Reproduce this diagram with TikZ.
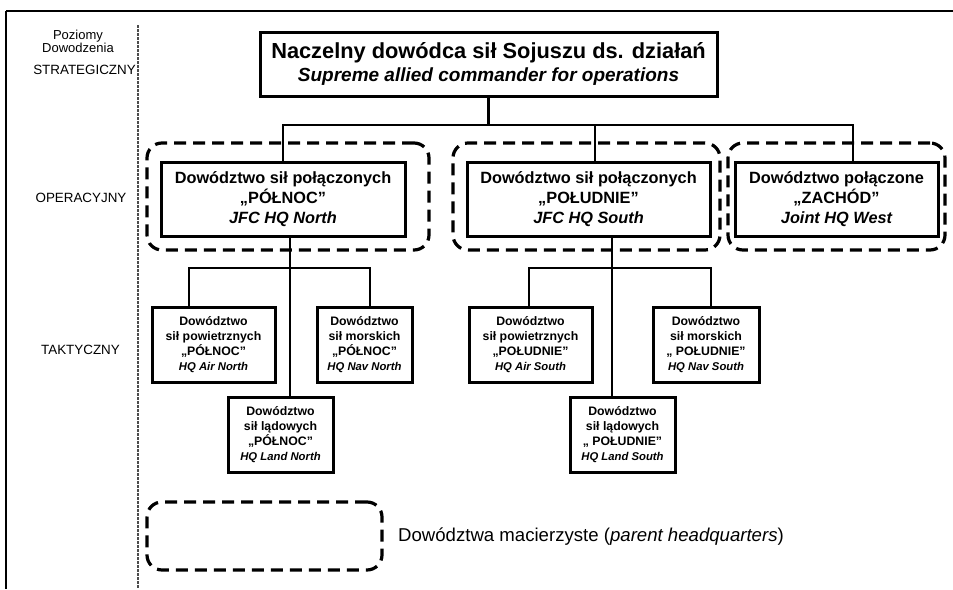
\documentclass[tikz,border=0pt]{standalone}
\usepackage{fontspec}
\setmainfont{Liberation Sans}
\newcommand{\hqfont}{\bfseries\itshape\fontsize{11.3}{15}\selectfont}
\begin{document}
\begin{tikzpicture}[x=1pt,y=-1pt,
  box/.style={draw, line width=3pt, inner sep=0pt, align=center},
  opbox/.style={box, minimum height=74pt, font=\bfseries\fontsize{16.3}{20}\selectfont},
  tbox/.style={box, minimum height=75pt, font=\bfseries\fontsize{12.3}{15}\selectfont},
  conn/.style={line width=2.6pt},
  grp/.style={draw, line width=3.2pt, dash pattern=on 12pt off 7pt, rounded corners=15pt, inner sep=0pt},
  lvl/.style={font=\fontsize{13.4}{15}\selectfont},
]
\useasboundingbox (0,0) rectangle (953,589);
% frame
\draw[line width=2.4pt] (6,11) -- (953,11);
\draw[line width=1.7pt] (6,11) -- (6,589);
\draw[line width=1.2pt, black!70, dash pattern=on 3pt off 1pt] (138,25) -- (138,589);
% level labels
\node[font=\fontsize{13}{12}\selectfont, align=center] (hdr) at (78,41) {Poziomy\\Dowodzenia};
\node[lvl] (lstr) at (84.5,70) {STRATEGICZNY};
\node[lvl] (lop) at (81,198) {OPERACYJNY};
\node[lvl] (ltac) at (80.5,350) {TAKTYCZNY};
% parent HQ groups
\node[grp, minimum width=282pt, minimum height=107pt] (gn) at (288,196.5) {};
\node[grp, minimum width=267pt, minimum height=107pt] (gs) at (586.5,196.5) {};
\node[grp, minimum width=217pt, minimum height=107pt] (gw) at (836.5,196.5) {};
% strategic
\node[box, minimum width=457pt, minimum height=64pt] (top) at (488.5,64)
  {{\bfseries\fontsize{21.8}{24}\selectfont Naczelny dowódca sił Sojuszu ds. działań}\\[3pt]
   {\bfseries\itshape\fontsize{19}{22}\selectfont Supreme allied commander for operations}};
% operational
\node[opbox, minimum width=244pt] (jn) at (283,199)
  {Dowództwo sił połączonych\\„PÓŁNOC”\\{\itshape JFC HQ North}};
\node[opbox, minimum width=243pt] (js) at (588.5,199)
  {Dowództwo sił połączonych\\„POŁUDNIE”\\{\itshape JFC HQ South}};
\node[opbox, minimum width=203pt] (jw) at (836.5,199)
  {Dowództwo połączone\\„ZACHÓD”\\{\itshape Joint HQ West}};
% tactical north
\node[tbox, minimum width=123pt] (an) at (213.5,344.5)
  {Dowództwo\\sił powietrznych\\„PÓŁNOC”\\{\hqfont HQ Air North}};
\node[tbox, minimum width=95pt] (nn) at (364.5,344.5)
  {Dowództwo\\sił morskich\\„PÓŁNOC”\\{\hqfont HQ Nav North}};
\node[tbox, minimum width=105pt] (ln) at (280.5,434.5)
  {Dowództwo\\sił lądowych\\„PÓŁNOC”\\{\hqfont HQ Land North}};
% tactical south
\node[tbox, minimum width=123pt] (as) at (530.5,344.5)
  {Dowództwo\\sił powietrznych\\„POŁUDNIE”\\{\hqfont HQ Air South}};
\node[tbox, minimum width=106pt] (ns) at (706,344.5)
  {Dowództwo\\sił morskich\\„ POŁUDNIE”\\{\hqfont HQ Nav South}};
\node[tbox, minimum width=105pt] (ls) at (622.5,435)
  {Dowództwo\\sił lądowych\\„ POŁUDNIE”\\{\hqfont HQ Land South}};
% connectors
\coordinate (barL) at (282,125);
\coordinate (tN) at (0,268);
\draw[conn] (top.south) -- (top.south |- barL);
\draw[conn] (jn.north) -- (jn.north |- barL) -- ([xshift=16.5pt]jw.north |- barL) -- ([xshift=16.5pt]jw.north);
\draw[conn] ([xshift=6.5pt]js.north) -- ([xshift=6.5pt]js.north |- barL);
\draw[conn] ([xshift=7pt]jn.south) -- ([xshift=7pt]jn.south |- ln.north);
\draw[conn] ([xshift=-24.5pt]an.north) -- ([xshift=-24.5pt]an.north |- tN) -- ([xshift=5.5pt]nn.north |- tN) -- ([xshift=5.5pt]nn.north);
\draw[conn] ([xshift=-10.5pt]ls.north) -- ([xshift=23.5pt]js.south);
\draw[conn] ([xshift=-1.5pt]as.north) -- ([xshift=-1.5pt]as.north |- tN) -- ([xshift=5pt]ns.north |- tN) -- ([xshift=5pt]ns.north);
% legend
\node[grp, minimum width=235pt, minimum height=68pt] (leg) at (264.5,536) {};
\node[anchor=west, font=\fontsize{18.6}{22}\selectfont, inner sep=0pt] (legt) at (398,537)
  {Dowództwa macierzyste (\textit{parent headquarters})};
\end{tikzpicture}
\end{document}
